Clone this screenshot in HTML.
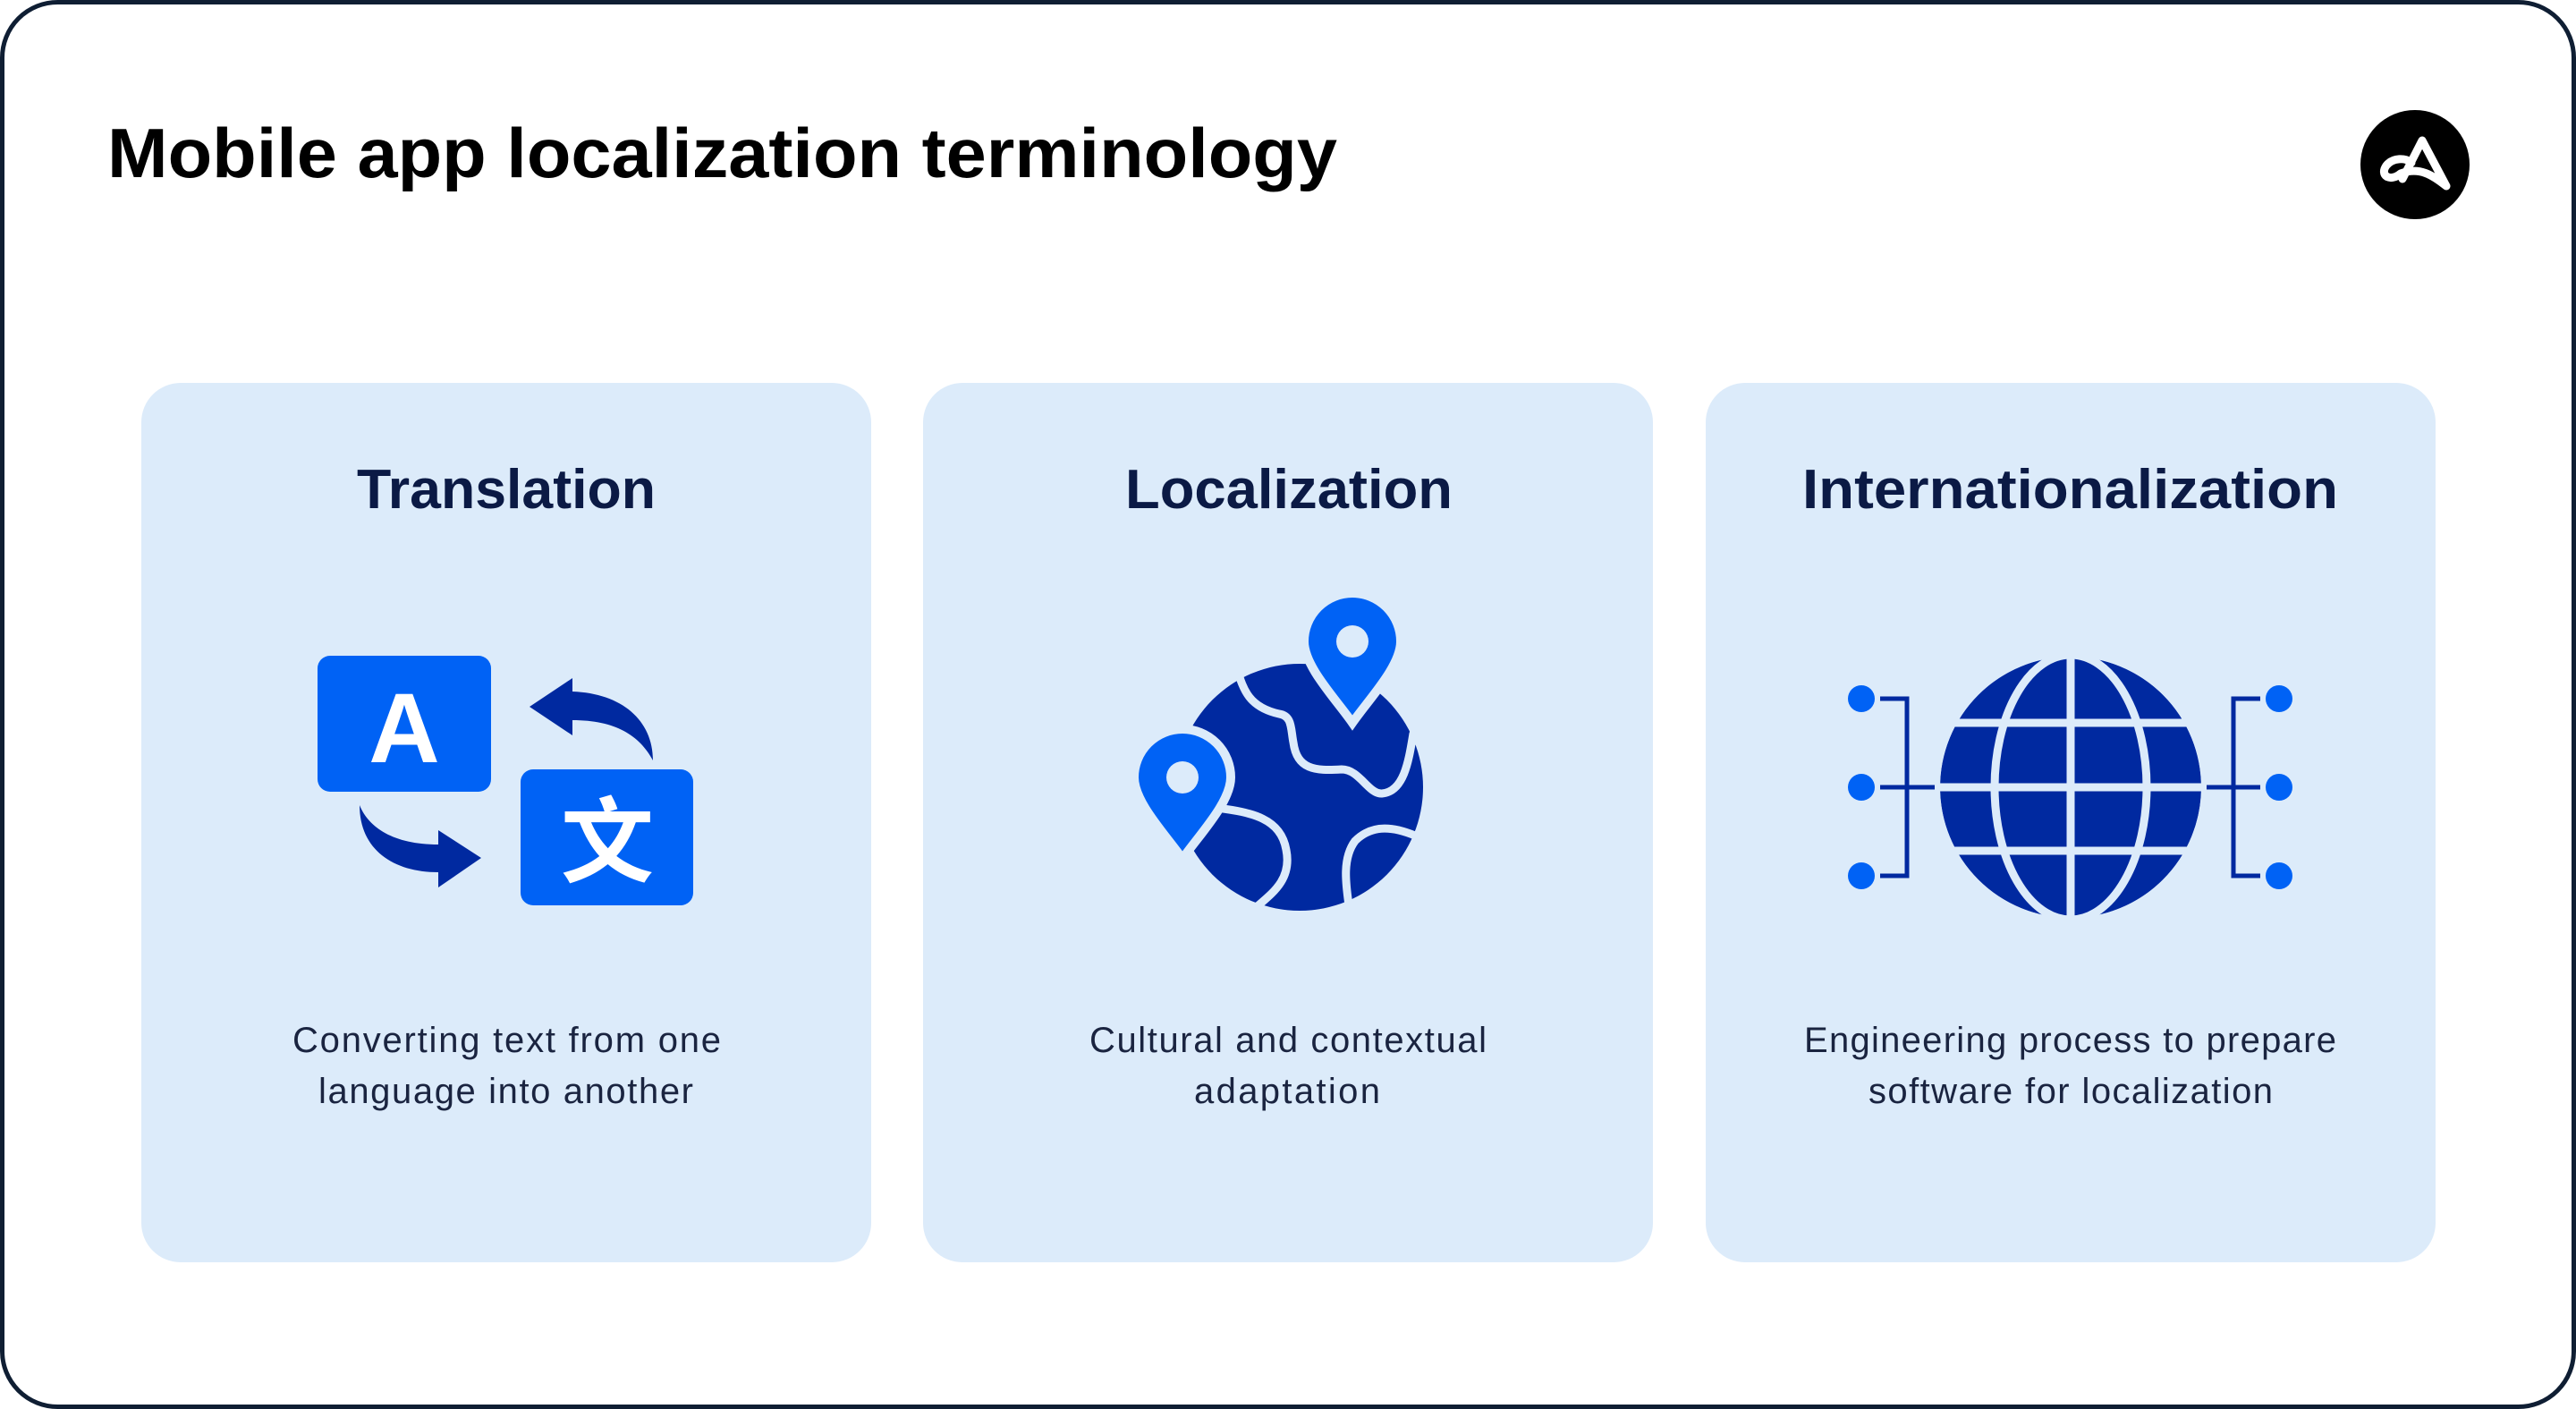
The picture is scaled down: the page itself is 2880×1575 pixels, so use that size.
<!DOCTYPE html>
<html><head><meta charset="utf-8"><style>
html,body{margin:0;padding:0;background:#fff;}
svg{display:block;}
</style></head><body>
<svg width="2880" height="1575" viewBox="0 0 2880 1575" xmlns="http://www.w3.org/2000/svg" font-family="'Liberation Sans', sans-serif">
<rect x="2.5" y="2.5" width="2875" height="1570" rx="62" fill="#fff" stroke="#0f1e33" stroke-width="5"/>
<text x="120" y="198" font-size="78" font-weight="700" fill="#000" textLength="1375" lengthAdjust="spacingAndGlyphs">Mobile app localization terminology</text>
<circle cx="2700" cy="184" r="61" fill="#000"/>
<path d="M2686,200 L2708,157 L2735,208 M2668,185 C2660,196 2672,204 2684,194 C2705,186 2720,196 2735,208 M2668,185 C2675,176 2690,176 2696,182" fill="none" stroke="#fff" stroke-width="9" stroke-linecap="round" stroke-linejoin="round"/>
<g fill="#dcebfa">
<rect x="158" y="428" width="816" height="983" rx="44"/>
<rect x="1032" y="428" width="816" height="983" rx="44"/>
<rect x="1907" y="428" width="816" height="983" rx="44"/>
</g>
<g font-size="62" font-weight="700" fill="#0b1a45">
<text x="399" y="568" textLength="334" lengthAdjust="spacingAndGlyphs">Translation</text>
<text x="1258" y="568" textLength="366" lengthAdjust="spacingAndGlyphs">Localization</text>
<text x="2015" y="568" textLength="599" lengthAdjust="spacingAndGlyphs">Internationalization</text>
</g>
<g font-size="40" fill="#1a2440" lengthAdjust="spacingAndGlyphs">
<text x="327" y="1176" textLength="479">Converting text from one</text>
<text x="356" y="1233" textLength="419">language into another</text>
<text x="1218" y="1176" textLength="444">Cultural and contextual</text>
<text x="1335" y="1233" textLength="208">adaptation</text>
<text x="2017" y="1176" textLength="595">Engineering process to prepare</text>
<text x="2089" y="1233" textLength="452">software for localization</text>
</g>
<!-- Translation icon -->
<rect x="355" y="733" width="194" height="152" rx="14" fill="#0062f5"/>
<rect x="582" y="860" width="193" height="152" rx="14" fill="#0062f5"/>
<text x="452" y="852" font-size="110" font-weight="700" fill="#fff" text-anchor="middle">A</text>
<text x="679" y="978" font-size="104" font-weight="700" fill="#fff" text-anchor="middle" font-family="'Noto Sans CJK SC', sans-serif">文</text>
<path d="M592,790 L640,758 L640,773 C695,775 730,805 730,850 C715,822 688,805 640,805 L640,822 Z" fill="#0029a0"/>
<path d="M538,959 L490,928 L490,944 C440,944 412,925 402,900 C402,950 440,975 490,975 L490,992 Z" fill="#0029a0"/>
<!-- Localization globe -->
<circle cx="1453" cy="880" r="138" fill="#0029a0"/>
<g fill="none" stroke="#dcebfa" stroke-width="9" stroke-linecap="round">
<path d="M1382,745 C1390,770 1395,790 1430,798 C1445,800 1443,815 1446,830 C1450,860 1470,862 1500,860 C1520,860 1530,888 1545,887 C1570,885 1575,850 1580,820"/>
<path d="M1360,903 C1400,908 1432,915 1438,950 C1445,985 1420,1000 1400,1018"/>
<path d="M1582,934 C1560,925 1535,920 1515,940 C1500,960 1505,990 1508,1012"/>
</g>
<g fill="#0062f5" stroke="#dcebfa" stroke-width="10">
<path d="M1512,808 C1494,782 1458,745 1458,717 A54,54 0 0 1 1566,717 C1566,745 1530,782 1512,808 Z"/>
<path d="M1322,960 C1304,934 1268,897 1268,869 A54,54 0 0 1 1376,869 C1376,897 1340,934 1322,960 Z"/>
</g>
<circle cx="1512" cy="717" r="18" fill="#dcebfa"/>
<circle cx="1322" cy="869" r="18" fill="#dcebfa"/>
<!-- Internationalization globe -->
<circle cx="2315" cy="880" r="146" fill="#0029a0"/>
<g fill="none" stroke="#dcebfa" stroke-width="9">
<line x1="2165" y1="880" x2="2465" y2="880"/>
<line x1="2165" y1="808" x2="2465" y2="808"/>
<line x1="2165" y1="951" x2="2465" y2="951"/>
<line x1="2315" y1="730" x2="2315" y2="1030"/>
<ellipse cx="2315" cy="880" rx="85" ry="148"/>
</g>
<circle cx="2315" cy="880" r="150" fill="none" stroke="#dcebfa" stroke-width="8"/>
<g fill="none" stroke="#0029a0" stroke-width="5">
<path d="M2102,781 L2132,781 L2132,979 L2102,979 M2102,880 L2163,880"/>
<path d="M2527,781 L2497,781 L2497,979 L2527,979 M2527,880 L2467,880"/>
</g>
<g fill="#0062f5">
<circle cx="2081" cy="781" r="15"/><circle cx="2081" cy="880" r="15"/><circle cx="2081" cy="979" r="15"/>
<circle cx="2548" cy="781" r="15"/><circle cx="2548" cy="880" r="15"/><circle cx="2548" cy="979" r="15"/>
</g>
</svg>
</body></html>
